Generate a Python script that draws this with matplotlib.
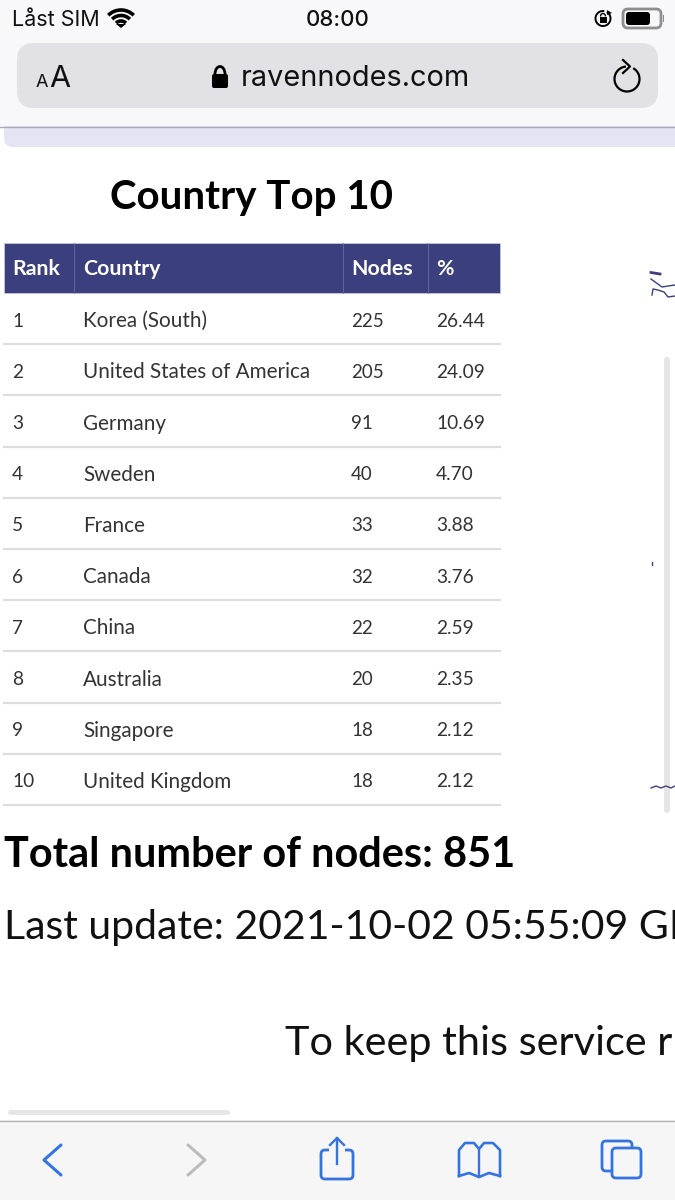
import matplotlib
matplotlib.use("Agg")
import matplotlib.pyplot as plt
from matplotlib.patches import FancyBboxPatch, Rectangle, Arc, Polygon

# table data
ranks = [1, 2, 3, 4, 5, 6, 7, 8, 9, 10]
countries = ["Korea (South)", "United States of America", "Germany", "Sweden", "France",
             "Canada", "China", "Australia", "Singapore", "United Kingdom"]
nodes = [225, 205, 91, 40, 33, 32, 22, 20, 18, 18]
percents = ["26.44", "24.09", "10.69", "4.70", "3.88", "3.76", "2.59", "2.35", "2.12", "2.12"]
headers = ["Rank", "Country", "Nodes", "%"]

NAVY = "#3b3f7d"
BLUE = "#3574e0"
WEB = "Lato"
IOS = "Inter"
TOOLBAR = "#f6f6f6"

plt.rcParams["font.family"] = [WEB, "DejaVu Sans"]

fig = plt.figure(figsize=(6.75, 12), dpi=100)
# axes in pixels, y going down like the screenshot
ax = fig.add_axes([0, 0, 1, 1])
ax.set_xlim(0, 675)
ax.set_ylim(1200, 0)
ax.axis("off")


def rounded(x, y, w, h, r, color, z=1):
    ax.add_patch(FancyBboxPatch((x + r, y + r), w - 2 * r, h - 2 * r,
                                boxstyle="round,pad=%g,rounding_size=%g" % (r, r),
                                fc=color, ec="none", zorder=z))


def outline(x, y, w, h, r, fc="none", color=BLUE, z=5):
    ax.add_patch(FancyBboxPatch((x + r, y + r), w - 2 * r, h - 2 * r,
                                boxstyle="round,pad=%g,rounding_size=%g" % (r, r),
                                fc=fc, ec=color, lw=2.0, zorder=z))


# browser top bar
rounded(4, 100, 720, 47, 9, "#e4e4f5", z=0.5)
ax.add_patch(Rectangle((0, 0), 675, 126, fc="#f8f8fa", ec="none", zorder=1))
rounded(17, 43, 641, 65, 17, "#e2e2e6", z=2)
ax.plot([0, 675], [126.5, 126.5], color="#a9a9b4", lw=1.0, zorder=3)

ax.text(12, 20, "Låst SIM", fontsize=15.5, family=IOS, va="center", color="#111111")
ax.text(337.5, 20, "08:00", fontsize=16, family=IOS, va="center", ha="center", color="#111111", weight="medium")

# wifi symbol
for r, w in [(18, 2.6), (12.5, 2.6), (7, 2.6)]:
    ax.add_patch(Arc((121, 28), r * 2, r * 2, theta1=225, theta2=315, color="black", lw=w, zorder=5))
ax.add_patch(Polygon([[116, 24], [126, 24], [121, 28]], fc="black", ec="none", zorder=5))

# rotation lock and battery
ax.add_patch(Arc((603, 18.5), 15, 15, theta1=-60, theta2=280, color="black", lw=1.4, zorder=5))
ax.add_patch(Polygon([[607, 10], [612, 13], [607, 15]], fc="black", ec="none", zorder=5))
ax.add_patch(Rectangle((599.5, 17), 7, 6, fc="black", ec="none", zorder=5))
ax.add_patch(Arc((603, 16.5), 5, 6, theta1=180, theta2=360, color="black", lw=1, zorder=5))
outline(623, 9, 38, 19, 5, color="#8e8e8e")
rounded(626, 12, 24, 13, 3, "black", z=6)
ax.add_patch(Rectangle((662.5, 15), 1.5, 7, fc="#8e8e8e", ec="none", zorder=5))

# address bar
ax.text(36, 87, "A", fontsize=13, family=IOS, va="baseline", color="#111111")
ax.text(49, 87, "A", fontsize=22, family=IOS, va="baseline", color="#111111")
ax.text(241, 78, "ravennodes.com", fontsize=20.8, family=IOS, va="center", color="#111111")
rounded(212, 74, 16, 14, 2, "black", z=5)
ax.add_patch(Arc((220, 74), 10, 15, theta1=180, theta2=360, color="black", lw=2, zorder=5))
ax.add_patch(Arc((627, 79), 25, 25, theta1=-60, theta2=265, color="black", lw=1.6, zorder=5))
ax.plot([623, 630, 623], [60, 66.5, 73], color="black", lw=1.6, zorder=5)

# page heading
ax.text(251, 197, "Country Top 10", fontsize=29, weight="bold", ha="center", va="center", color="black")

# table
col_x = [4, 74, 343, 428, 500]
text_x = [12, 83, 351, 436]
head_top, head_bottom = 243, 293
row_h = 51.2

ax.add_patch(Rectangle((col_x[0], head_top), col_x[4] - col_x[0], head_bottom - head_top,
                       fc=NAVY, ec="#c3c5e0", lw=0.6, zorder=2))
for x in col_x[1:4]:
    ax.plot([x, x], [head_top, head_bottom], color="#6a6da0", lw=0.6, zorder=3)
for x, label in zip(text_x, headers):
    ax.text(x, 269, label, fontsize=15.3, weight="bold", color="white", va="center", zorder=4)

for i, (rank, country, node, pct) in enumerate(zip(ranks, countries, nodes, percents)):
    y = head_bottom + row_h * (i + 0.55)
    ax.text(text_x[0], y, str(rank), fontsize=13.8, color="#333333", va="center", zorder=4)
    ax.text(text_x[1], y, country, fontsize=14.9, color="#333333", va="center", zorder=4)
    ax.text(text_x[2], y, str(node), fontsize=13.5, color="#333333", va="center", zorder=4)
    ax.text(text_x[3], y, pct, fontsize=13.8, color="#333333", va="center", zorder=4)
    bottom = head_bottom + row_h * (i + 1)
    ax.plot([4, 500], [bottom, bottom], color="#dddddd", lw=1.6, zorder=3)

# text under the table, cut off by the screen edge like in the screenshot
ax.text(4, 855, "Total number of nodes: 851", fontsize=29.9, weight="bold", va="center", color="black")
ax.text(4, 927, "Last update: 2021-10-02 05:55:09 GMT", fontsize=29.5, va="center", color="#111111", clip_on=True)
ax.text(285, 1044, "To keep this service running", fontsize=29.8, va="center", color="#111111", clip_on=True)

# map scraps and scrollbars on the right
ax.plot([651, 660], [272.5, 274], color=NAVY, lw=2.0, zorder=3)
ax.plot([651, 662, 668, 675], [279, 287, 286, 285], color=NAVY, lw=1.0, zorder=3)
ax.plot([652, 653, 658, 664, 668, 675], [295, 289, 290, 292, 297, 296], color=NAVY, lw=1.0, zorder=3)
ax.plot([651.5, 651.5], [562, 565], color=NAVY, lw=1.0, zorder=3)
ax.plot([651, 656, 661, 666, 671, 675], [788, 786, 788, 786, 788, 786], color=NAVY, lw=1.0, zorder=4)
rounded(664, 357, 6, 456, 3, "#e6e6e6", z=2)
rounded(8, 1110, 222, 5, 2.5, "#e6e6e6", z=2)

# bottom toolbar
ax.add_patch(Rectangle((0, 1120), 675, 80, fc=TOOLBAR, ec="none", zorder=2))
ax.plot([0, 675], [1120.5, 1120.5], color="#b5b5b5", lw=1.0, zorder=3)
ax.plot([61, 44, 61], [1145, 1160, 1175], color=BLUE, lw=2.2, zorder=5, solid_capstyle="round")
ax.plot([188, 205, 188], [1145, 1160, 1175], color="#bcbcbc", lw=2.2, zorder=5, solid_capstyle="round")

# share icon
outline(321, 1150, 32, 29, 4)
ax.add_patch(Rectangle((329, 1146), 16, 8, fc=TOOLBAR, ec="none", zorder=5.5))
ax.plot([337, 337], [1138, 1164], color=BLUE, lw=1.7, zorder=6)
ax.plot([330, 337, 344], [1145, 1138, 1145], color=BLUE, lw=1.7, zorder=6)

# book icon
ax.plot([459, 459, 465, 474, 479, 484, 493, 500, 500], [1176, 1150, 1143, 1143, 1149, 1143, 1143, 1150, 1176],
        color=BLUE, lw=1.9, zorder=5)
ax.plot([479, 479], [1149, 1177], color=BLUE, lw=1.7, zorder=5)
ax.plot([459, 469, 479, 489, 500], [1176, 1173, 1177, 1173, 1176], color=BLUE, lw=1.9, zorder=5)

# tabs icon
outline(602, 1141, 30, 30, 4, z=5)
outline(612, 1148, 29, 30, 4, fc=TOOLBAR, z=6)

fig.savefig("out.png", dpi=100)
